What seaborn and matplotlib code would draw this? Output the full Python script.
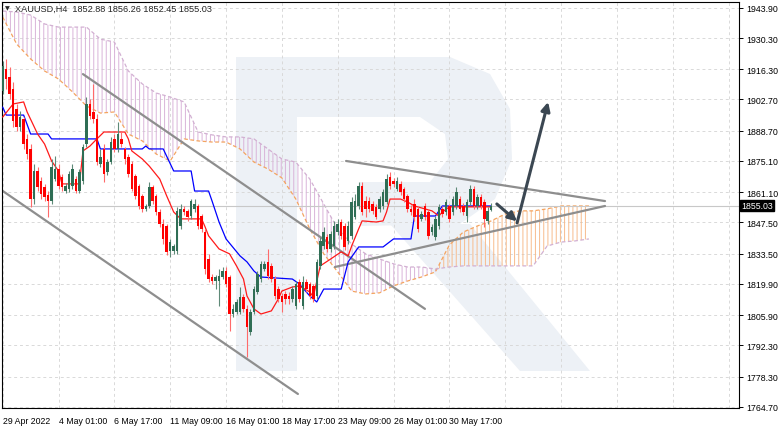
import numpy as np
import matplotlib
matplotlib.use("Agg")
import matplotlib.pyplot as plt
import seaborn as sns
from matplotlib.patches import Polygon

# ---------------------------------------------------
# Data (XAUUSD H4)
# ---------------------------------------------------
opens = [1906.5, 1916.4, 1912.8, 1907.4, 1898.4, 1890.4, 1894.0, 1885.0, 1880.5, 1858.0,
         1870.6, 1866.1, 1863.4, 1859.8, 1857.1, 1867.0, 1871.5, 1867.9, 1861.6, 1862.5,
         1863.9, 1867.0, 1861.6, 1866.1, 1882.7, 1900.7, 1897.1, 1894.0, 1873.7, 1880.5,
         1870.2, 1874.6, 1885.0, 1880.5, 1885.0, 1880.5, 1876.9, 1873.7, 1868.4, 1863.9,
         1859.4, 1853.6, 1854.9, 1863.4, 1859.4, 1852.2, 1846.8, 1845.9, 1834.7, 1834.7,
         1834.7, 1845.9, 1853.6, 1852.7, 1850.4, 1853.6, 1854.9, 1850.4, 1843.2, 1831.1,
         1823.0, 1821.2, 1821.2, 1823.0, 1825.7, 1823.0, 1806.4, 1807.3, 1807.3, 1814.1,
         1808.7, 1798.3, 1807.3, 1816.3, 1822.1, 1826.6, 1829.8, 1828.0, 1822.1, 1817.6,
         1814.5, 1815.4, 1814.5, 1813.2, 1810.0, 1820.8, 1810.0, 1820.8, 1819.9, 1819.0,
         1814.5, 1828.0, 1836.9, 1841.0, 1835.6, 1836.9, 1843.2, 1847.7, 1845.9, 1839.2,
         1841.5, 1850.0, 1854.9, 1863.9, 1857.1, 1857.1, 1855.8, 1854.5, 1853.6, 1854.9,
         1856.7, 1867.9, 1866.1, 1862.5, 1864.8, 1862.5, 1859.4, 1853.6, 1855.8, 1853.6,
         1849.1, 1854.9, 1852.2, 1843.2, 1841.0, 1845.9, 1853.6, 1852.2, 1854.9, 1852.2,
         1854.9, 1858.0, 1854.9, 1850.4, 1856.7, 1862.5, 1854.9, 1858.9, 1856.7, 1848.2,
         1852.88]
highs = [1920.0, 1920.9, 1917.3, 1910.6, 1900.7, 1897.5, 1894.8, 1887.2, 1882.7, 1873.7,
         1872.4, 1867.9, 1864.8, 1861.6, 1876.0, 1877.3, 1873.7, 1869.3, 1865.2, 1870.6,
         1873.7, 1868.4, 1871.5, 1882.7, 1903.8, 1902.9, 1909.7, 1896.2, 1880.5, 1882.7,
         1876.0, 1885.9, 1887.2, 1892.6, 1888.6, 1881.4, 1878.2, 1875.1, 1869.3, 1864.8,
         1860.3, 1855.8, 1865.7, 1864.3, 1860.3, 1853.6, 1849.1, 1846.8, 1840.1, 1837.8,
         1854.5, 1855.8, 1854.9, 1853.6, 1858.0, 1858.0, 1855.8, 1851.3, 1844.6, 1833.4,
         1824.4, 1823.9, 1826.6, 1827.5, 1827.5, 1823.9, 1810.9, 1813.2, 1818.5, 1815.4,
         1810.5, 1808.7, 1819.0, 1825.7, 1830.2, 1830.2, 1835.6, 1829.3, 1823.5, 1819.0,
         1815.9, 1816.7, 1816.3, 1819.0, 1821.2, 1822.1, 1823.5, 1822.1, 1820.8, 1819.9,
         1831.1, 1841.0, 1845.5, 1842.3, 1843.7, 1848.2, 1849.1, 1849.1, 1847.3, 1848.2,
         1858.9, 1860.3, 1865.7, 1865.7, 1859.4, 1858.9, 1857.1, 1855.8, 1859.4, 1862.5,
         1869.3, 1870.2, 1867.5, 1867.9, 1866.1, 1863.4, 1860.3, 1855.3, 1858.0, 1854.9,
         1852.7, 1856.2, 1853.6, 1846.8, 1850.4, 1855.8, 1854.9, 1858.0, 1855.8, 1859.4,
         1863.4, 1859.4, 1856.2, 1858.0, 1864.3, 1863.9, 1860.3, 1860.3, 1858.0, 1854.5,
         1856.26]
lows = [1905.2, 1907.4, 1902.9, 1890.4, 1888.6, 1888.6, 1880.5, 1876.0, 1854.5, 1855.8,
        1861.6, 1858.0, 1857.1, 1850.0, 1855.8, 1866.1, 1862.5, 1861.6, 1860.7, 1861.2,
        1862.5, 1860.7, 1860.7, 1864.8, 1881.4, 1894.0, 1892.1, 1873.3, 1872.4, 1865.7,
        1868.8, 1873.7, 1879.1, 1879.1, 1881.4, 1873.7, 1867.9, 1861.6, 1858.0, 1853.6,
        1852.2, 1852.7, 1854.0, 1855.8, 1850.9, 1845.5, 1837.8, 1832.9, 1832.0, 1833.4,
        1833.4, 1844.6, 1850.9, 1848.2, 1849.1, 1852.2, 1844.6, 1843.2, 1824.4, 1820.8,
        1819.9, 1817.6, 1810.0, 1822.1, 1818.5, 1798.8, 1805.1, 1806.4, 1806.4, 1807.3,
        1787.1, 1797.0, 1806.4, 1815.4, 1820.8, 1825.7, 1822.1, 1820.8, 1813.2, 1811.8,
        1807.3, 1810.9, 1810.9, 1811.8, 1808.7, 1811.8, 1808.7, 1816.3, 1813.2, 1811.8,
        1813.2, 1826.6, 1835.6, 1834.3, 1834.3, 1835.6, 1841.9, 1840.1, 1835.2, 1837.8,
        1840.1, 1849.1, 1853.6, 1850.9, 1850.0, 1852.2, 1851.3, 1849.1, 1852.2, 1853.6,
        1855.8, 1862.5, 1863.4, 1861.6, 1859.8, 1856.7, 1852.2, 1850.9, 1848.2, 1843.2,
        1848.2, 1848.6, 1840.1, 1841.9, 1839.6, 1844.6, 1850.0, 1850.9, 1847.7, 1850.9,
        1853.6, 1852.2, 1850.9, 1847.7, 1855.3, 1853.6, 1853.6, 1853.6, 1845.5, 1846.8,
        1852.45]
closes = [1917.7, 1911.9, 1905.2, 1893.0, 1890.4, 1894.8, 1882.7, 1878.2, 1858.0, 1870.6,
          1863.4, 1860.3, 1858.9, 1857.1, 1872.4, 1871.5, 1863.9, 1863.4, 1863.9, 1869.3,
          1871.5, 1861.6, 1870.2, 1881.4, 1900.7, 1895.3, 1894.0, 1874.6, 1876.9, 1869.3,
          1874.6, 1883.6, 1880.5, 1887.2, 1882.7, 1876.0, 1869.3, 1862.5, 1859.4, 1854.9,
          1853.6, 1854.9, 1863.4, 1857.1, 1852.2, 1846.8, 1840.1, 1834.3, 1838.7, 1836.9,
          1852.7, 1853.6, 1852.2, 1850.0, 1857.1, 1855.8, 1845.9, 1844.6, 1826.6, 1822.1,
          1821.2, 1823.0, 1823.5, 1825.7, 1819.9, 1806.4, 1808.7, 1811.8, 1814.1, 1808.7,
          1800.6, 1807.3, 1817.6, 1824.4, 1828.9, 1828.9, 1823.5, 1822.1, 1814.5, 1813.2,
          1811.8, 1813.2, 1813.2, 1817.6, 1819.9, 1813.2, 1820.8, 1817.6, 1814.5, 1813.2,
          1829.8, 1839.2, 1843.2, 1835.6, 1842.3, 1845.9, 1846.8, 1841.5, 1836.5, 1845.9,
          1856.7, 1857.1, 1863.9, 1852.2, 1853.6, 1853.6, 1852.7, 1850.0, 1858.0, 1861.2,
          1867.0, 1863.9, 1864.8, 1866.1, 1861.2, 1858.0, 1853.6, 1852.2, 1850.0, 1844.6,
          1851.3, 1850.0, 1841.5, 1845.5, 1849.1, 1854.5, 1851.3, 1856.7, 1849.1, 1858.0,
          1861.2, 1853.6, 1852.2, 1856.7, 1862.5, 1854.9, 1858.9, 1854.9, 1849.1, 1852.7,
          1855.03]

# Ichimoku lines (bar index, price)
tenkan_bar = [0, 3, 6, 7, 10, 12, 14, 16, 17, 22, 23, 25, 27, 29, 35, 36, 37, 40, 42, 45,
              47, 49, 51, 57, 58, 59, 62, 65, 67, 69, 70, 72, 74, 77, 79, 80, 83, 85, 88, 89,
              91, 94, 97, 99, 100, 102, 103, 107, 109, 110, 111, 114, 116, 118, 123, 125, 126,
              128, 140]
tenkan_val = [1894.8, 1900.7, 1901.6, 1897.1, 1887.2, 1882.7, 1875.1, 1870.6, 1864.8, 1864.8,
              1879.6, 1881.8, 1885.0, 1888.1, 1888.1, 1885.0, 1879.6, 1876.0, 1872.8, 1867.0,
              1859.4, 1852.2, 1849.1, 1849.1, 1845.5, 1841.5, 1835.6, 1833.4, 1828.0, 1822.1,
              1814.5, 1808.7, 1806.4, 1807.8, 1813.2, 1816.7, 1818.5, 1819.0, 1816.3, 1814.1,
              1828.0, 1831.1, 1834.3, 1832.5, 1836.9, 1844.6, 1848.2, 1847.7, 1848.2, 1852.2,
              1858.0, 1858.0, 1856.7, 1854.9, 1852.7, 1850.4, 1852.2, 1854.5, 1854.5]
kijun_bar = [0, 1, 6, 8, 13, 14, 27, 28, 40, 41, 42, 46, 49, 54, 55, 59, 60, 62, 64, 68,
             70, 72, 74, 83, 85, 88, 90, 92, 97, 99, 102, 109, 112, 117, 118, 124, 126, 140]
kijun_val = [1899.3, 1895.7, 1895.7, 1887.2, 1887.2, 1885.0, 1885.0, 1880.5, 1880.5, 1881.8,
             1880.5, 1880.5, 1870.6, 1870.6, 1861.6, 1861.6, 1857.1, 1847.7, 1840.1, 1832.5,
             1829.8, 1825.7, 1823.0, 1822.1, 1819.9, 1814.5, 1811.8, 1817.6, 1817.6, 1829.8,
             1836.5, 1836.5, 1840.1, 1840.1, 1850.4, 1850.4, 1854.9, 1854.9]
span_bar = list(range(0, 169, 4))
span_a = [1939.7, 1927.6, 1920.9, 1915.5, 1911.9, 1906.1, 1899.8, 1896.6, 1897.1, 1887.2,
          1884.1, 1878.2, 1875.1, 1885.0, 1884.1, 1883.6, 1883.6, 1880.5, 1874.6, 1871.5,
          1867.5, 1858.0, 1844.6, 1833.4, 1825.3, 1816.7, 1815.4, 1815.9, 1819.0, 1821.2,
          1823.0, 1825.3, 1837.4, 1843.2, 1845.9, 1848.2, 1851.3, 1852.7, 1852.7, 1853.6,
          1854.9, 1854.9, 1854.9]
span_b = [1942.4, 1942.0, 1940.6, 1936.6, 1935.2, 1935.2, 1935.2, 1929.8, 1928.5, 1915.5,
          1909.7, 1905.6, 1903.8, 1901.6, 1888.1, 1886.8, 1885.9, 1885.9, 1885.0, 1880.5,
          1876.0, 1874.6, 1867.0, 1855.8, 1844.6, 1837.8, 1833.4, 1831.1, 1828.9, 1827.5,
          1827.5, 1826.6, 1827.5, 1828.0, 1828.0, 1828.0, 1828.0, 1828.0, 1828.0, 1836.9,
          1838.7, 1839.2, 1840.1]

# trend lines and forecast arrows: (bar0, price0, bar1, price1)
trend_lines = [(23.0, 1914.1, 121.0, 1808.7),
               (-0.8, 1862.5, 84.6, 1770.5),
               (98.4, 1875.1, 172.6, 1857.1),
               (95.2, 1827.5, 172.6, 1854.9)]
arrows = [(141.6, 1855.8, 147.4, 1848.0),
          (147.4, 1847.3, 156.3, 1901.6)]

tick_bars = [0, 16, 32, 48, 64, 80, 96, 112, 128]
tick_labels = ["29 Apr 2022", "4 May 01:00", "6 May 17:00", "11 May 09:00", "16 May 01:00",
               "18 May 17:00", "23 May 09:00", "26 May 01:00", "30 May 17:00"]
price_ticks = [1943.90, 1930.30, 1916.30, 1902.70, 1888.70, 1875.10, 1861.10, 1847.50,
               1833.50, 1819.90, 1805.90, 1792.30, 1778.30, 1764.70]
last_price = 1855.03
title = "XAUUSD,H4  1852.88 1856.26 1852.45 1855.03"

# ---------------------------------------------------
# Figure
# ---------------------------------------------------
sns.set_style("white")
plt.rcParams["font.family"] = ["Liberation Sans", "DejaVu Sans"]
plt.rcParams["hatch.linewidth"] = 0.7

fig = plt.figure(figsize=(7.82, 4.31), dpi=100)
ax = fig.add_axes([2 / 782, 22 / 431, 737 / 782, 406.3 / 431])
ax.set_xlim(-0.2, 211.0)
ax.set_ylim(1764.2, 1946.6)

# watermark logo (axes fraction)
def px(x, y):
    return ((x - 2) / 737, (409 - y) / 406.3)

wm = "#edf1f6"
ax.add_patch(Polygon([px(236, 58), px(297, 58), px(297, 372), px(236, 372)],
                     closed=True, transform=ax.transAxes, color=wm, lw=0, zorder=0))
ax.add_patch(Polygon([px(297, 58), px(450, 58), px(490, 75), px(510, 110), px(512, 160),
                      px(495, 200), px(460, 225), px(360, 227), px(360, 183), px(297, 183)],
                     closed=True, transform=ax.transAxes, color=wm, lw=0, zorder=0))
ax.add_patch(Polygon([px(297, 118), px(420, 118), px(445, 135), px(448, 160),
                      px(430, 183), px(297, 183)],
                     closed=True, transform=ax.transAxes, color="white", lw=0, zorder=0.1))
ax.add_patch(Polygon([px(390, 225), px(470, 225), px(590, 372), px(520, 372)],
                     closed=True, transform=ax.transAxes, color=wm, lw=0, zorder=0))

# grid
grid_kw = dict(color="#d9d9d9", lw=0.7, ls=(0, (3, 3)), zorder=0.5)
for b in range(0, 209, 16):
    ax.axvline(b, **grid_kw)
for p in price_ticks:
    ax.axhline(p, **grid_kw)

# ichimoku cloud
sa = np.array(span_a)
sb = np.array(span_b)
ax.fill_between(span_bar, sa, sb, where=sa >= sb, interpolate=True, facecolor="none",
                edgecolor="#f7bb8c", hatch="||||", lw=0, zorder=1)
ax.fill_between(span_bar, sa, sb, where=sa < sb, interpolate=True, facecolor="none",
                edgecolor="#d9b3d9", hatch="||||", lw=0, zorder=1)
sns.lineplot(x=span_bar, y=span_a, ax=ax, color="#f4a460", lw=0.9, ls=(0, (3, 2)),
             estimator=None, zorder=1.2)
sns.lineplot(x=span_bar, y=span_b, ax=ax, color="#d2b0d2", lw=0.9, ls=(0, (3, 2)),
             estimator=None, zorder=1.2)

# current price line
ax.axhline(last_price, color="#c8c8c8", lw=0.8, zorder=1.5)

# trend lines
for x0, y0, x1, y1 in trend_lines:
    ax.plot([x0, x1], [y0, y1], color="#8e8e8e", lw=1.6, zorder=2, solid_capstyle="round")

# tenkan / kijun
sns.lineplot(x=kijun_bar, y=kijun_val, ax=ax, color="#0000ff", lw=0.9, estimator=None,
             sort=False, zorder=3)
sns.lineplot(x=tenkan_bar, y=tenkan_val, ax=ax, color="#ff1a1a", lw=0.9, estimator=None,
             sort=False, zorder=3)

# candles
bars = np.arange(len(closes))
o = np.array(opens)
c = np.array(closes)
up = c >= o
ax.vlines(bars[up], np.array(lows)[up], np.array(highs)[up], color="#5f8a78", lw=0.8, zorder=4)
ax.vlines(bars[~up], np.array(lows)[~up], np.array(highs)[~up], color="#ff6a6a", lw=0.8, zorder=4)
body = np.where(np.abs(c - o) < 0.4, 0.4, c - o)
ax.bar(bars[up], body[up], bottom=o[up], width=0.72, color="#2f6e55", lw=0, zorder=5)
ax.bar(bars[~up], body[~up], bottom=o[~up], width=0.72, color="#ff0000", lw=0, zorder=5)

# arrows
for x0, y0, x1, y1 in arrows:
    ax.annotate("", xy=(x1, y1), xytext=(x0, y0),
                arrowprops=dict(arrowstyle="-|>", color="#3b4752", lw=2.2,
                                mutation_scale=13, shrinkA=0, shrinkB=0), zorder=6)

# axes styling
for s in ax.spines.values():
    s.set_color("black")
    s.set_linewidth(0.8)
ax.yaxis.tick_right()
ax.set_yticks(price_ticks)
ax.set_yticklabels([f"{p:.2f}" for p in price_ticks])
ax.set_xticks(tick_bars)
ax.set_xticklabels(tick_labels, ha="left")
ax.tick_params(axis="both", which="both", direction="out", length=3, width=0.7,
               labelsize=6.3, colors="black", pad=2)
ax.tick_params(axis="x", pad=3)
ax.set_xlabel("")
ax.set_ylabel("")

# last price tag
ax.text(1.003, last_price, f"{last_price:.2f}", transform=ax.get_yaxis_transform(),
        ha="left", va="center", fontsize=6.3, color="white",
        bbox=dict(boxstyle="square,pad=0.15", fc="black", ec="black"), zorder=10,
        clip_on=False)

# title
ax.text(0.004, 0.984, "\u25bc", transform=ax.transAxes, fontsize=4.5, va="center",
        ha="left", family="DejaVu Sans")
ax.text(0.018, 0.984, title, transform=ax.transAxes, fontsize=6.6, va="center", ha="left")

fig.savefig("out.png", dpi=100)
